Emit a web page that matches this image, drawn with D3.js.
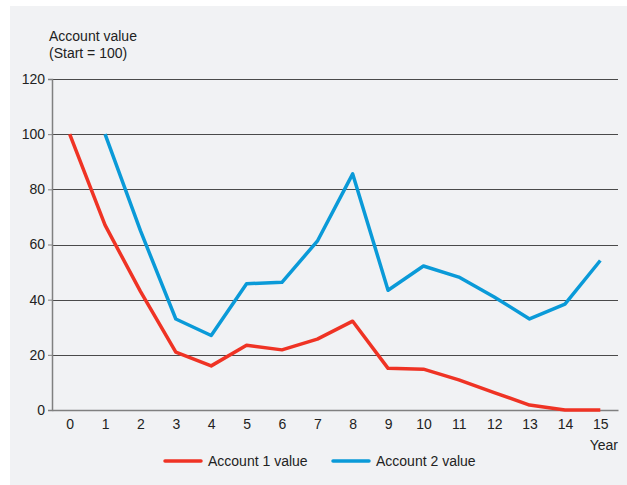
<!DOCTYPE html>
<html>
<head>
<meta charset="utf-8">
<script src="https://cdn.jsdelivr.net/npm/d3@7"></script>
<style>
  body { margin: 0; background: #fff; }
  text { font-family: "Liberation Sans", Arial, sans-serif; fill: #222; }
</style>
</head>
<body>
<div id="chart"></div>
<script>
// data
var years = [0, 1, 2, 3, 4, 5, 6, 7, 8, 9, 10, 11, 12, 13, 14, 15]
var account1 = [100, 67, 43, 21, 16, 23.5, 21.8, 25.7, 32.2, 15.1, 14.8, 10.9, 6.3, 1.8, 0, 0]
// account 2 starts in year 1
var account2 = [null, 100, 65, 33, 27, 45.8, 46.3, 61.2, 85.6, 43.4, 52.2, 48.2, 41, 33, 38.4, 54.2]
var yTicks = [0, 20, 40, 60, 80, 100, 120]
var seriesNames = ["Account 1 value", "Account 2 value"]
var colors = ["#ef3324", "#0a9ad8"]

var W = 627, H = 485
var margin = {top: 79, right: 9, bottom: 75, left: 52}
var width = W - margin.left - margin.right
var height = H - margin.top - margin.bottom

var svg = d3.select("#chart").append("svg")
    .attr("width", W)
    .attr("height", H)

// panel background
svg.append("rect")
    .attr("x", 10).attr("y", 6)
    .attr("width", W - 10).attr("height", H - 6)
    .attr("fill", "#f1f2f4")

var g = svg.append("g")
    .attr("transform", "translate(" + margin.left + "," + margin.top + ")")

var x = d3.scalePoint()
    .domain(years)
    .range([0, width])
    .padding(0.5)

var y = d3.scaleLinear()
    .domain([0, 120])
    .range([height, 0])

// grid lines
g.selectAll(".grid")
    .data(yTicks.filter(function(d){ return d > 0 }))
    .enter().append("line")
    .attr("x1", 0).attr("x2", width)
    .attr("y1", function(d){ return Math.round(y(d)) + 0.5 })
    .attr("y2", function(d){ return Math.round(y(d)) + 0.5 })
    .attr("stroke", "#4a4a4a")
    .attr("stroke-width", 1)

// y axis
var yAxis = g.append("g")
    .call(d3.axisLeft(y).tickValues(yTicks).tickSize(4).tickPadding(3))
yAxis.select(".domain").attr("stroke", "#808080").attr("stroke-width", 1.5)
yAxis.selectAll(".tick line").attr("stroke", "#808080")
yAxis.selectAll("text").style("font-size", "14px").attr("fill", "#222")

// x axis
var xAxis = g.append("g")
    .attr("transform", "translate(0," + height + ")")
    .call(d3.axisBottom(x).tickSize(0).tickPadding(9))
xAxis.select(".domain").attr("stroke", "#808080").attr("stroke-width", 1.5)
xAxis.selectAll("text").style("font-size", "14px").attr("fill", "#222")

// lines
var line = d3.line()
    .defined(function(d){ return d[1] != null })
    .x(function(d){ return x(d[0]) })
    .y(function(d){ return y(d[1]) })

;[account1, account2].forEach(function(vals, i) {
  g.append("path")
    .datum(years.map(function(yr, j){ return [yr, vals[j]] }))
    .attr("fill", "none")
    .attr("stroke", colors[i])
    .attr("stroke-width", 3.5)
    .attr("stroke-linejoin", "round")
    .attr("d", line)
})

// axis titles
svg.append("text").attr("x", 49).attr("y", 41)
    .style("font-size", "14px").text("Account value")
svg.append("text").attr("x", 49).attr("y", 58)
    .style("font-size", "14px").text("(Start = 100)")
svg.append("text").attr("x", 618).attr("y", 450)
    .attr("text-anchor", "end")
    .style("font-size", "14px").text("Year")

// legend
var legendX = [165, 333]
seriesNames.forEach(function(name, i) {
  svg.append("line")
    .attr("x1", legendX[i]).attr("x2", legendX[i] + 36)
    .attr("y1", 461).attr("y2", 461)
    .attr("stroke", colors[i])
    .attr("stroke-width", 3.5)
    .attr("stroke-linecap", "round")
  svg.append("text")
    .attr("x", legendX[i] + 43).attr("y", 466)
    .style("font-size", "14px")
    .text(name)
})
</script>
</body>
</html>
